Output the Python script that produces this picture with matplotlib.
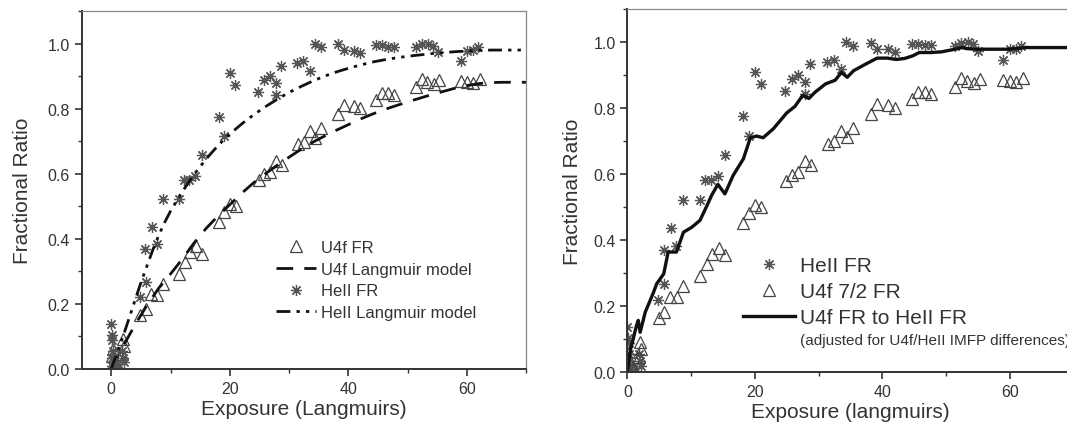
import matplotlib
matplotlib.use("Agg")
import matplotlib.pyplot as plt
from matplotlib.ticker import MultipleLocator
from matplotlib.lines import Line2D

plt.rcParams['font.family'] = ['Liberation Sans', 'DejaVu Sans']

# HeII FR points (stars) - same data in both panels
hell_x = [0.0, 0.1, 0.2, 0.3, 0.1, 0.4, 0.2, 1.0, 1.8, 2.0, 2.1,
          4.8, 5.8, 5.7, 6.8, 7.7, 8.7, 11.4, 12.2, 13.1, 14.2, 15.3,
          18.1, 19.1, 20.0, 20.9, 24.8, 25.8, 26.7, 27.8, 27.8, 28.6,
          31.4, 32.4, 33.5, 34.3, 35.4, 38.2, 39.2, 40.9, 42.0,
          44.6, 45.6, 46.7, 47.7, 51.4, 52.4, 53.4, 54.2, 55.1,
          58.9, 60.0, 61.0, 61.8]
hell_y = [0.138, 0.105, 0.09, 0.055, 0.035, 0.02, 0.008, 0.005, 0.055, 0.035, 0.02,
          0.22, 0.268, 0.37, 0.436, 0.383, 0.522, 0.523, 0.582, 0.582, 0.594, 0.658,
          0.775, 0.716, 0.908, 0.873, 0.852, 0.888, 0.9, 0.878, 0.842, 0.932,
          0.94, 0.946, 0.917, 1.0, 0.988, 0.998, 0.98, 0.978, 0.971,
          0.995, 0.995, 0.99, 0.99, 0.988, 0.998, 0.999, 0.993, 0.973,
          0.946, 0.978, 0.98, 0.988]

# U4f FR points (triangles)
u4f_x = [0.2, 0.5, 1.0, 0.3, 2.0, 2.1, 1.8,
         4.9, 5.8, 6.7, 7.8, 8.7, 11.4, 12.5, 13.3, 14.3, 15.3,
         18.1, 19.1, 20.0, 21.0, 24.9, 25.8, 26.8, 27.8, 28.8,
         31.5, 32.5, 33.5, 34.4, 35.4, 38.2, 39.2, 40.9, 42.0,
         44.7, 45.6, 46.7, 47.7, 51.4, 52.4, 53.3, 54.4, 55.3,
         58.9, 60.0, 61.0, 62.1]
u4f_y = [0.04, 0.02, 0.01, 0.06, 0.093, 0.07, 0.045,
         0.165, 0.183, 0.229, 0.227, 0.261, 0.292, 0.329, 0.358, 0.377, 0.354,
         0.452, 0.483, 0.506, 0.5, 0.58, 0.598, 0.606, 0.639, 0.628,
         0.69, 0.699, 0.731, 0.711, 0.739, 0.783, 0.811, 0.809, 0.801,
         0.827, 0.849, 0.849, 0.842, 0.865, 0.892, 0.882, 0.875, 0.887,
         0.885, 0.882, 0.88, 0.892]

# Langmuir model curves
hell_model_x = [0, 1, 2, 3, 4, 5, 6, 7, 8, 9, 10, 11, 12, 13, 14, 15, 16, 17, 18, 19, 20,
                22, 24, 26, 28, 30, 32, 34, 36, 38, 40, 42, 44, 46, 48, 50, 52, 54, 56,
                58, 60, 62, 64, 66, 68, 70]
hell_model_y = [0.0, 0.05, 0.10, 0.155, 0.21, 0.265, 0.315, 0.365, 0.41, 0.45, 0.485,
                0.515, 0.545, 0.572, 0.598, 0.622, 0.645, 0.666, 0.686, 0.705, 0.722,
                0.753, 0.781, 0.806, 0.829, 0.85, 0.868, 0.885, 0.9, 0.913, 0.924,
                0.934, 0.943, 0.95, 0.956, 0.961, 0.965, 0.969, 0.972, 0.975, 0.977,
                0.979, 0.98, 0.98, 0.98, 0.98]
u4f_model_x = [0, 2, 4, 6, 8, 10, 12, 14, 16, 18, 20, 22, 24, 26, 28, 30, 32, 34, 36, 38,
               40, 42, 44, 46, 48, 50, 52, 54, 56, 58, 60, 62, 64, 66, 70]
u4f_model_y = [0.0, 0.07, 0.135, 0.195, 0.248, 0.292, 0.338, 0.388, 0.432, 0.47, 0.505,
               0.54, 0.572, 0.6, 0.626, 0.651, 0.675, 0.697, 0.716, 0.734, 0.751, 0.768,
               0.783, 0.797, 0.809, 0.821, 0.832, 0.843, 0.853, 0.863, 0.871, 0.877,
               0.88, 0.881, 0.881]

# U4f FR converted to HeII FR (right panel solid line)
adj_x = [0, 0.2, 0.5, 0.9, 1.4, 1.7, 2.0, 2.8, 4.1, 4.6, 5.7, 6.4, 7.7, 8.8, 10.1,
         11.4, 12.5, 13.2, 14.2, 15.3, 16.6, 18.2, 19.3, 20.3, 21.3, 22.9, 25.0,
         26.3, 27.5, 28.5, 29.4, 31.1, 32.6, 33.6, 34.5, 35.5, 37.4, 39.2, 40.8,
         42.2, 43.5, 44.8, 45.8, 47.7, 49.3, 51.4, 52.5, 53.2, 54.5, 57.1, 59.7,
         61.3, 62.3, 70]
adj_y = [0.0, 0.03, 0.07, 0.10, 0.14, 0.157, 0.121, 0.182, 0.242, 0.268, 0.298,
         0.364, 0.364, 0.424, 0.439, 0.46, 0.505, 0.535, 0.569, 0.54, 0.596, 0.646,
         0.71, 0.715, 0.71, 0.737, 0.785, 0.805, 0.838, 0.829, 0.847, 0.873, 0.884,
         0.908, 0.893, 0.913, 0.933, 0.951, 0.951, 0.947, 0.95, 0.958, 0.968, 0.968,
         0.97, 0.978, 0.983, 0.98, 0.978, 0.978, 0.978, 0.98, 0.983, 0.983]

star = (8, 2, 0)
star_style = dict(linestyle='none', marker=star, markersize=8, color='#555555',
                  markeredgewidth=0.9)
tri_style = dict(linestyle='none', marker='^', markersize=8, markerfacecolor='none',
                 markeredgecolor='#444444', markeredgewidth=0.9)
dashdotdot = (0, (5, 2.2, 1.2, 2.2, 1.2, 2.2))


def style_axes(ax, xmin, label, ypad):
    ax.set_xlim(xmin, 70)
    ax.set_ylim(0, 1.1)
    ax.xaxis.set_major_locator(MultipleLocator(20))
    ax.xaxis.set_minor_locator(MultipleLocator(10))
    ax.yaxis.set_major_locator(MultipleLocator(0.2))
    ax.yaxis.set_minor_locator(MultipleLocator(0.1))
    ax.yaxis.set_major_formatter(plt.FuncFormatter(lambda v, p: f'{v:.1f}'))
    ax.tick_params(which='major', direction='out', length=5, width=1.2,
                   labelsize=11.5, labelcolor='#333333', color='#333333')
    ax.tick_params(which='minor', direction='out', length=3, width=1.0,
                   color='#333333')
    ax.tick_params(top=False, right=False)
    for s in ['left', 'bottom']:
        ax.spines[s].set_linewidth(1.4)
        ax.spines[s].set_color('#333333')
    for s in ['top', 'right']:
        ax.spines[s].set_linewidth(0.9)
        ax.spines[s].set_color('#888888')
    ax.set_xlabel(label, fontsize=15, color='#333333', labelpad=2)
    ax.set_ylabel('Fractional Ratio', fontsize=15, color='#333333', labelpad=ypad)


fig = plt.figure(figsize=(10.67, 4.27), dpi=100)

# left panel
ax1 = fig.add_axes([0.0764, 0.1335, 0.417, 0.8384])
ax1.plot(u4f_x, u4f_y, **tri_style, label='U4f FR')
ax1.plot(u4f_model_x, u4f_model_y, color='#111111', lw=2, linestyle=(0, (6, 4)),
         label='U4f Langmuir model')
ax1.plot(hell_x, hell_y, **star_style, label='HeII FR')
ax1.plot(hell_model_x, hell_model_y, color='#111111', lw=2, linestyle=dashdotdot,
         label='HeII Langmuir model')
style_axes(ax1, -5, 'Exposure (Langmuirs)', 11)
ax1.legend(loc='upper left', bbox_to_anchor=(0.437, 0.36), frameon=False,
           fontsize=12, handlelength=2.4, handletextpad=0.3, labelspacing=0.4,
           borderpad=0, borderaxespad=0, numpoints=1, labelcolor='#333333')

# right panel (runs off the right edge of the figure)
ax2 = fig.add_axes([0.588, 0.1258, 0.418, 0.851])
ax2.plot(hell_x, hell_y, **star_style)
ax2.plot(u4f_x, u4f_y, **tri_style)
ax2.plot(adj_x, adj_y, color='#111111', lw=2.4)
style_axes(ax2, 0, 'Exposure (langmuirs)', 8)
handles = [Line2D([], [], **star_style), Line2D([], [], **tri_style),
           Line2D([], [], color='#111111', lw=2.4)]
ax2.legend(handles, ['HeII FR', 'U4f 7/2 FR', 'U4f FR to HeII FR'],
           loc='upper left', bbox_to_anchor=(0.259, 0.319), frameon=False,
           fontsize=15, handlelength=2.5, handletextpad=0.25, labelspacing=0.33,
           borderpad=0, borderaxespad=0, numpoints=1, labelcolor='#333333')
# the reference crops this note at the right edge of the figure
fig.text(800 / 1067, 1 - 341 / 427, '(adjusted for U4f/HeII IMFP differences)',
         fontsize=11, color='#333333', va='center', ha='left')

fig.savefig('out.png', dpi=100)
